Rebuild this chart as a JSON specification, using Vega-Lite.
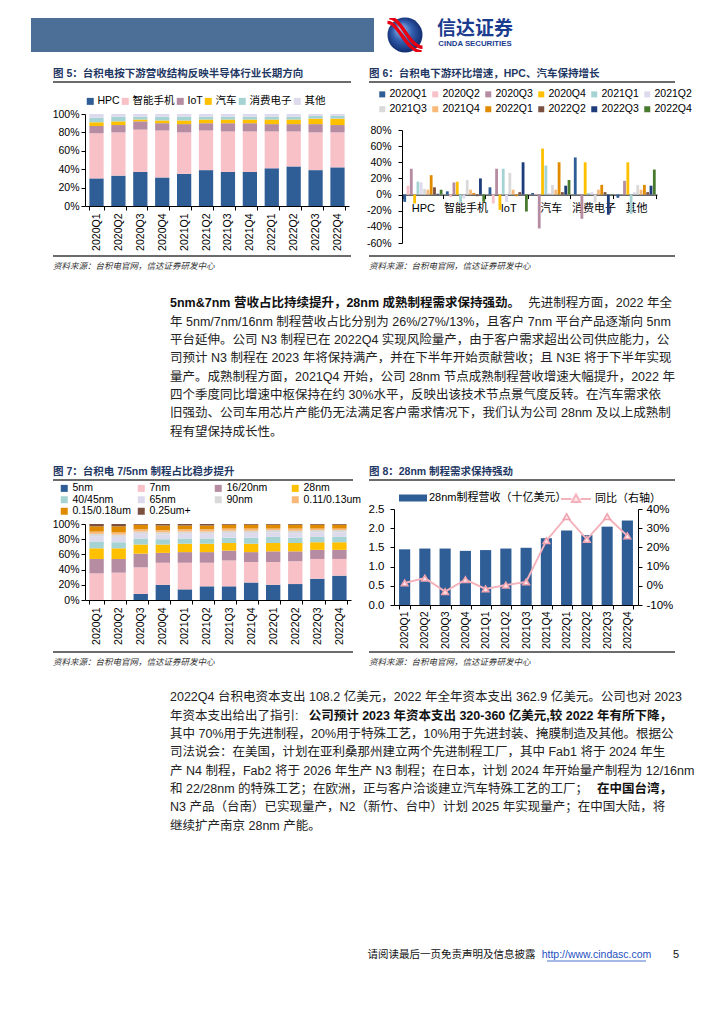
{
 "$schema": "https://vega.github.io/schema/vega-lite/v6.json",
 "background": "white",
 "padding": {"left": 31, "top": 17, "right": 0, "bottom": 0},
 "config": {
  "font": "Liberation Sans, Noto Sans CJK SC",
  "view": {"stroke": null},
  "axis": {"grid": false, "domainColor": "#000", "tickColor": "#000", "labelColor": "#000", "labelFontSize": 10.5, "labelFont": "Liberation Sans, Noto Sans CJK SC", "tickSize": 4, "labelOverlap": false},
  "legend": {"labelFontSize": 10.5, "labelColor": "#000", "labelFont": "Liberation Sans, Noto Sans CJK SC"},
  "title": {"font": "Liberation Sans, Noto Sans CJK SC"}
 },
 "datasets": {
  "fig5": [
   {"季度":"2020Q1","下游":"HPC","占比":30},{"季度":"2020Q1","下游":"智能手机","占比":49},{"季度":"2020Q1","下游":"IoT","占比":8},{"季度":"2020Q1","下游":"汽车","占比":4},{"季度":"2020Q1","下游":"消费电子","占比":5},{"季度":"2020Q1","下游":"其他","占比":4},
   {"季度":"2020Q2","下游":"HPC","占比":33},{"季度":"2020Q2","下游":"智能手机","占比":47},{"季度":"2020Q2","下游":"IoT","占比":8},{"季度":"2020Q2","下游":"汽车","占比":4},{"季度":"2020Q2","下游":"消费电子","占比":5},{"季度":"2020Q2","下游":"其他","占比":3},
   {"季度":"2020Q3","下游":"HPC","占比":37},{"季度":"2020Q3","下游":"智能手机","占比":46},{"季度":"2020Q3","下游":"IoT","占比":9},{"季度":"2020Q3","下游":"汽车","占比":2},{"季度":"2020Q3","下游":"消费电子","占比":3},{"季度":"2020Q3","下游":"其他","占比":3},
   {"季度":"2020Q4","下游":"HPC","占比":31},{"季度":"2020Q4","下游":"智能手机","占比":51},{"季度":"2020Q4","下游":"IoT","占比":8},{"季度":"2020Q4","下游":"汽车","占比":3},{"季度":"2020Q4","下游":"消费电子","占比":4},{"季度":"2020Q4","下游":"其他","占比":3},
   {"季度":"2021Q1","下游":"HPC","占比":35},{"季度":"2021Q1","下游":"智能手机","占比":45},{"季度":"2021Q1","下游":"IoT","占比":9},{"季度":"2021Q1","下游":"汽车","占比":4},{"季度":"2021Q1","下游":"消费电子","占比":4},{"季度":"2021Q1","下游":"其他","占比":3},
   {"季度":"2021Q2","下游":"HPC","占比":39},{"季度":"2021Q2","下游":"智能手机","占比":43},{"季度":"2021Q2","下游":"IoT","占比":8},{"季度":"2021Q2","下游":"汽车","占比":4},{"季度":"2021Q2","下游":"消费电子","占比":3},{"季度":"2021Q2","下游":"其他","占比":3},
   {"季度":"2021Q3","下游":"HPC","占比":37},{"季度":"2021Q3","下游":"智能手机","占比":44},{"季度":"2021Q3","下游":"IoT","占比":9},{"季度":"2021Q3","下游":"汽车","占比":4},{"季度":"2021Q3","下游":"消费电子","占比":3},{"季度":"2021Q3","下游":"其他","占比":3},
   {"季度":"2021Q4","下游":"HPC","占比":37},{"季度":"2021Q4","下游":"智能手机","占比":44},{"季度":"2021Q4","下游":"IoT","占比":9},{"季度":"2021Q4","下游":"汽车","占比":4},{"季度":"2021Q4","下游":"消费电子","占比":3},{"季度":"2021Q4","下游":"其他","占比":3},
   {"季度":"2022Q1","下游":"HPC","占比":41},{"季度":"2022Q1","下游":"智能手机","占比":40},{"季度":"2022Q1","下游":"IoT","占比":8},{"季度":"2022Q1","下游":"汽车","占比":5},{"季度":"2022Q1","下游":"消费电子","占比":3},{"季度":"2022Q1","下游":"其他","占比":3},
   {"季度":"2022Q2","下游":"HPC","占比":43},{"季度":"2022Q2","下游":"智能手机","占比":38},{"季度":"2022Q2","下游":"IoT","占比":8},{"季度":"2022Q2","下游":"汽车","占比":5},{"季度":"2022Q2","下游":"消费电子","占比":3},{"季度":"2022Q2","下游":"其他","占比":3},
   {"季度":"2022Q3","下游":"HPC","占比":39},{"季度":"2022Q3","下游":"智能手机","占比":41},{"季度":"2022Q3","下游":"IoT","占比":9},{"季度":"2022Q3","下游":"汽车","占比":6},{"季度":"2022Q3","下游":"消费电子","占比":3},{"季度":"2022Q3","下游":"其他","占比":2},
   {"季度":"2022Q4","下游":"HPC","占比":42},{"季度":"2022Q4","下游":"智能手机","占比":38},{"季度":"2022Q4","下游":"IoT","占比":8},{"季度":"2022Q4","下游":"汽车","占比":7},{"季度":"2022Q4","下游":"消费电子","占比":3},{"季度":"2022Q4","下游":"其他","占比":2}
  ],
  "fig6": [
   {"平台":"HPC","季度":"2020Q1","环比":-9},{"平台":"HPC","季度":"2020Q2","环比":11},{"平台":"HPC","季度":"2020Q3","环比":32},{"平台":"HPC","季度":"2020Q4","环比":-11},{"平台":"HPC","季度":"2021Q1","环比":16},{"平台":"HPC","季度":"2021Q2","环比":15},{"平台":"HPC","季度":"2021Q3","环比":7},{"平台":"HPC","季度":"2021Q4","环比":6},{"平台":"HPC","季度":"2022Q1","环比":24},{"平台":"HPC","季度":"2022Q2","环比":9},{"平台":"HPC","季度":"2022Q3","环比":1},{"平台":"HPC","季度":"2022Q4","环比":6},
   {"平台":"智能手机","季度":"2020Q1","环比":4},{"平台":"智能手机","季度":"2020Q2","环比":-3},{"平台":"智能手机","季度":"2020Q3","环比":15},{"平台":"智能手机","季度":"2020Q4","环比":16},{"平台":"智能手机","季度":"2021Q1","环比":-10},{"平台":"智能手机","季度":"2021Q2","环比":-5},{"平台":"智能手机","季度":"2021Q3","环比":18},{"平台":"智能手机","季度":"2021Q4","环比":6},{"平台":"智能手机","季度":"2022Q1","环比":2},{"平台":"智能手机","季度":"2022Q2","环比":-2},{"平台":"智能手机","季度":"2022Q3","环比":20},{"平台":"智能手机","季度":"2022Q4","环比":-9},
   {"平台":"IoT","季度":"2020Q1","环比":9},{"平台":"IoT","季度":"2020Q2","环比":-11},{"平台":"IoT","季度":"2020Q3","环比":32},{"平台":"IoT","季度":"2020Q4","环比":-19},{"平台":"IoT","季度":"2021Q1","环比":32},{"平台":"IoT","季度":"2021Q2","环比":-9},{"平台":"IoT","季度":"2021Q3","环比":27},{"平台":"IoT","季度":"2021Q4","环比":6},{"平台":"IoT","季度":"2022Q1","环比":-2},{"平台":"IoT","季度":"2022Q2","环比":3},{"平台":"IoT","季度":"2022Q3","环比":40},{"平台":"IoT","季度":"2022Q4","环比":-21},
   {"平台":"汽车","季度":"2020Q1","环比":2},{"平台":"汽车","季度":"2020Q2","环比":1},{"平台":"汽车","季度":"2020Q3","环比":-42},{"平台":"汽车","季度":"2020Q4","环比":57},{"平台":"汽车","季度":"2021Q1","环比":36},{"平台":"汽车","季度":"2021Q2","环比":2},{"平台":"汽车","季度":"2021Q3","环比":12},{"平台":"汽车","季度":"2021Q4","环比":6},{"平台":"汽车","季度":"2022Q1","环比":40},{"平台":"汽车","季度":"2022Q2","环比":3},{"平台":"汽车","季度":"2022Q3","环比":11},{"平台":"汽车","季度":"2022Q4","环比":18},
   {"平台":"消费电子","季度":"2020Q1","环比":46},{"平台":"消费电子","季度":"2020Q2","环比":0},{"平台":"消费电子","季度":"2020Q3","环比":-30},{"平台":"消费电子","季度":"2020Q4","环比":40},{"平台":"消费电子","季度":"2021Q1","环比":2},{"平台":"消费电子","季度":"2021Q2","环比":3},{"平台":"消费电子","季度":"2021Q3","环比":-10},{"平台":"消费电子","季度":"2021Q4","环比":6},{"平台":"消费电子","季度":"2022Q1","环比":12},{"平台":"消费电子","季度":"2022Q2","环比":3},{"平台":"消费电子","季度":"2022Q3","环比":-25},{"平台":"消费电子","季度":"2022Q4","环比":-1},
   {"平台":"其他","季度":"2020Q1","环比":-4},{"平台":"其他","季度":"2020Q2","环比":0},{"平台":"其他","季度":"2020Q3","环比":17},{"平台":"其他","季度":"2020Q4","环比":40},{"平台":"其他","季度":"2021Q1","环比":-24},{"平台":"其他","季度":"2021Q2","环比":3},{"平台":"其他","季度":"2021Q3","环比":12},{"平台":"其他","季度":"2021Q4","环比":6},{"平台":"其他","季度":"2022Q1","环比":12},{"平台":"其他","季度":"2022Q2","环比":3},{"平台":"其他","季度":"2022Q3","环比":11},{"平台":"其他","季度":"2022Q4","环比":31}
  ],
  "fig7": [
   {"季度":"2020Q1","制程":"5nm","占比":0},{"季度":"2020Q1","制程":"7nm","占比":35},{"季度":"2020Q1","制程":"16/20nm","占比":19},{"季度":"2020Q1","制程":"28nm","占比":14},{"季度":"2020Q1","制程":"40/45nm","占比":9},{"季度":"2020Q1","制程":"65nm","占比":7},{"季度":"2020Q1","制程":"90nm","占比":3},{"季度":"2020Q1","制程":"0.11/0.13um","占比":3},{"季度":"2020Q1","制程":"0.15/0.18um","占比":7},{"季度":"2020Q1","制程":"0.25um+","占比":3},
   {"季度":"2020Q2","制程":"5nm","占比":0},{"季度":"2020Q2","制程":"7nm","占比":36},{"季度":"2020Q2","制程":"16/20nm","占比":18},{"季度":"2020Q2","制程":"28nm","占比":14},{"季度":"2020Q2","制程":"40/45nm","占比":8},{"季度":"2020Q2","制程":"65nm","占比":7},{"季度":"2020Q2","制程":"90nm","占比":3},{"季度":"2020Q2","制程":"0.11/0.13um","占比":3},{"季度":"2020Q2","制程":"0.15/0.18um","占比":8},{"季度":"2020Q2","制程":"0.25um+","占比":3},
   {"季度":"2020Q3","制程":"5nm","占比":8},{"季度":"2020Q3","制程":"7nm","占比":35},{"季度":"2020Q3","制程":"16/20nm","占比":18},{"季度":"2020Q3","制程":"28nm","占比":12},{"季度":"2020Q3","制程":"40/45nm","占比":8},{"季度":"2020Q3","制程":"65nm","占比":6},{"季度":"2020Q3","制程":"90nm","占比":3},{"季度":"2020Q3","制程":"0.11/0.13um","占比":3},{"季度":"2020Q3","制程":"0.15/0.18um","占比":6},{"季度":"2020Q3","制程":"0.25um+","占比":1},
   {"季度":"2020Q4","制程":"5nm","占比":20},{"季度":"2020Q4","制程":"7nm","占比":29},{"季度":"2020Q4","制程":"16/20nm","占比":13},{"季度":"2020Q4","制程":"28nm","占比":11},{"季度":"2020Q4","制程":"40/45nm","占比":7},{"季度":"2020Q4","制程":"65nm","占比":6},{"季度":"2020Q4","制程":"90nm","占比":3},{"季度":"2020Q4","制程":"0.11/0.13um","占比":3},{"季度":"2020Q4","制程":"0.15/0.18um","占比":6},{"季度":"2020Q4","制程":"0.25um+","占比":2},
   {"季度":"2021Q1","制程":"5nm","占比":14},{"季度":"2021Q1","制程":"7nm","占比":35},{"季度":"2021Q1","制程":"16/20nm","占比":14},{"季度":"2021Q1","制程":"28nm","占比":11},{"季度":"2021Q1","制程":"40/45nm","占比":7},{"季度":"2021Q1","制程":"65nm","占比":6},{"季度":"2021Q1","制程":"90nm","占比":3},{"季度":"2021Q1","制程":"0.11/0.13um","占比":3},{"季度":"2021Q1","制程":"0.15/0.18um","占比":5},{"季度":"2021Q1","制程":"0.25um+","占比":2},
   {"季度":"2021Q2","制程":"5nm","占比":18},{"季度":"2021Q2","制程":"7nm","占比":31},{"季度":"2021Q2","制程":"16/20nm","占比":14},{"季度":"2021Q2","制程":"28nm","占比":11},{"季度":"2021Q2","制程":"40/45nm","占比":7},{"季度":"2021Q2","制程":"65nm","占比":6},{"季度":"2021Q2","制程":"90nm","占比":3},{"季度":"2021Q2","制程":"0.11/0.13um","占比":3},{"季度":"2021Q2","制程":"0.15/0.18um","占比":5},{"季度":"2021Q2","制程":"0.25um+","占比":2},
   {"季度":"2021Q3","制程":"5nm","占比":18},{"季度":"2021Q3","制程":"7nm","占比":34},{"季度":"2021Q3","制程":"16/20nm","占比":13},{"季度":"2021Q3","制程":"28nm","占比":10},{"季度":"2021Q3","制程":"40/45nm","占比":7},{"季度":"2021Q3","制程":"65nm","占比":6},{"季度":"2021Q3","制程":"90nm","占比":3},{"季度":"2021Q3","制程":"0.11/0.13um","占比":3},{"季度":"2021Q3","制程":"0.15/0.18um","占比":5},{"季度":"2021Q3","制程":"0.25um+","占比":1},
   {"季度":"2021Q4","制程":"5nm","占比":23},{"季度":"2021Q4","制程":"7nm","占比":27},{"季度":"2021Q4","制程":"16/20nm","占比":13},{"季度":"2021Q4","制程":"28nm","占比":11},{"季度":"2021Q4","制程":"40/45nm","占比":8},{"季度":"2021Q4","制程":"65nm","占比":6},{"季度":"2021Q4","制程":"90nm","占比":3},{"季度":"2021Q4","制程":"0.11/0.13um","占比":3},{"季度":"2021Q4","制程":"0.15/0.18um","占比":5},{"季度":"2021Q4","制程":"0.25um+","占比":1},
   {"季度":"2022Q1","制程":"5nm","占比":20},{"季度":"2022Q1","制程":"7nm","占比":30},{"季度":"2022Q1","制程":"16/20nm","占比":14},{"季度":"2022Q1","制程":"28nm","占比":11},{"季度":"2022Q1","制程":"40/45nm","占比":8},{"季度":"2022Q1","制程":"65nm","占比":6},{"季度":"2022Q1","制程":"90nm","占比":3},{"季度":"2022Q1","制程":"0.11/0.13um","占比":2},{"季度":"2022Q1","制程":"0.15/0.18um","占比":5},{"季度":"2022Q1","制程":"0.25um+","占比":1},
   {"季度":"2022Q2","制程":"5nm","占比":21},{"季度":"2022Q2","制程":"7nm","占比":30},{"季度":"2022Q2","制程":"16/20nm","占比":13},{"季度":"2022Q2","制程":"28nm","占比":11},{"季度":"2022Q2","制程":"40/45nm","占比":7},{"季度":"2022Q2","制程":"65nm","占比":6},{"季度":"2022Q2","制程":"90nm","占比":3},{"季度":"2022Q2","制程":"0.11/0.13um","占比":3},{"季度":"2022Q2","制程":"0.15/0.18um","占比":5},{"季度":"2022Q2","制程":"0.25um+","占比":1},
   {"季度":"2022Q3","制程":"5nm","占比":28},{"季度":"2022Q3","制程":"7nm","占比":26},{"季度":"2022Q3","制程":"16/20nm","占比":12},{"季度":"2022Q3","制程":"28nm","占比":10},{"季度":"2022Q3","制程":"40/45nm","占比":7},{"季度":"2022Q3","制程":"65nm","占比":6},{"季度":"2022Q3","制程":"90nm","占比":3},{"季度":"2022Q3","制程":"0.11/0.13um","占比":2},{"季度":"2022Q3","制程":"0.15/0.18um","占比":5},{"季度":"2022Q3","制程":"0.25um+","占比":1},
   {"季度":"2022Q4","制程":"5nm","占比":32},{"季度":"2022Q4","制程":"7nm","占比":22},{"季度":"2022Q4","制程":"16/20nm","占比":12},{"季度":"2022Q4","制程":"28nm","占比":10},{"季度":"2022Q4","制程":"40/45nm","占比":7},{"季度":"2022Q4","制程":"65nm","占比":6},{"季度":"2022Q4","制程":"90nm","占比":3},{"季度":"2022Q4","制程":"0.11/0.13um","占比":2},{"季度":"2022Q4","制程":"0.15/0.18um","占比":5},{"季度":"2022Q4","制程":"0.25um+","占比":1}
  ],
  "fig8": [
   {"季度":"2020Q1","营收":1.45,"同比":1.5},{"季度":"2020Q2","营收":1.47,"同比":4},{"季度":"2020Q3","营收":1.47,"同比":-3},{"季度":"2020Q4","营收":1.41,"同比":3.2},
   {"季度":"2021Q1","营收":1.43,"同比":-1.6},{"季度":"2021Q2","营收":1.47,"同比":0.4},{"季度":"2021Q3","营收":1.49,"同比":2},{"季度":"2021Q4","营收":1.74,"同比":23.5},
   {"季度":"2022Q1","营收":1.94,"同比":36},{"季度":"2022Q2","营收":1.82,"同比":24.2},{"季度":"2022Q3","营收":2.04,"同比":36},{"季度":"2022Q4","营收":2.2,"同比":26}
  ],
  "brand_cn": [{"行":1,"文本":"信达证券"}],
  "brand_en": [{"行":2,"文本":"CINDA SECURITIES"}],
  "p1_emph_head": [{"行":1,"文本":"5nm&7nm 营收占比持续提升，28nm 成熟制程需求保持强劲。"}],
  "p1_tail": [{"行":1,"文本":"先进制程方面，2022 年全"}],
  "p1_head": [
   {"行":2,"文本":"年 5nm/7nm/16nm 制程营收占比分别为 26%/27%/13%，且客户 7nm 平台产品逐渐向 5nm"},
   {"行":3,"文本":"平台延伸。公司 N3 制程已在 2022Q4 实现风险量产，由于客户需求超出公司供应能力，公"},
   {"行":4,"文本":"司预计 N3 制程在 2023 年将保持满产，并在下半年开始贡献营收；且 N3E 将于下半年实现"},
   {"行":5,"文本":"量产。成熟制程方面，2021Q4 开始，公司 28nm 节点成熟制程营收增速大幅提升，2022 年"},
   {"行":6,"文本":"四个季度同比增速中枢保持在约 30%水平，反映出该技术节点景气度反转。在汽车需求依"},
   {"行":7,"文本":"旧强劲、公司车用芯片产能仍无法满足客户需求情况下，我们认为公司 28nm 及以上成熟制"},
   {"行":8,"文本":"程有望保持成长性。"}
  ],
  "p2_head": [
   {"行":1,"文本":"2022Q4 台积电资本支出 108.2 亿美元，2022 年全年资本支出 362.9 亿美元。公司也对 2023"},
   {"行":2,"文本":"年资本支出给出了指引:"},
   {"行":3,"文本":"其中 70%用于先进制程，20%用于特殊工艺，10%用于先进封装、掩膜制造及其他。根据公"},
   {"行":4,"文本":"司法说会：在美国，计划在亚利桑那州建立两个先进制程工厂，其中 Fab1 将于 2024 年生"},
   {"行":5,"文本":"产 N4 制程，Fab2 将于 2026 年生产 N3 制程；在日本，计划 2024 年开始量产制程为 12/16nm"},
   {"行":6,"文本":"和 22/28nm 的特殊工艺；在欧洲，正与客户洽谈建立汽车特殊工艺的工厂；"},
   {"行":7,"文本":"N3 产品（台南）已实现量产，N2（新竹、台中）计划 2025 年实现量产；在中国大陆，将"},
   {"行":8,"文本":"继续扩产南京 28nm 产能。"}
  ],
  "p2_emph_tail": [
   {"行":2,"文本":"公司预计 2023 年资本支出 320-360 亿美元,较 2022 年有所下降，"},
   {"行":6,"文本":"在中国台湾，"}
  ]
 },
 "spacing": 0,
 "resolve": {"scale": {"color": "independent", "fill": "independent", "stroke": "independent"}, "legend": {"color": "independent", "fill": "independent", "stroke": "independent"}},
 "vconcat": [
  {
   "hconcat": [
    {"width": 343, "height": 34, "view": {"fill": "#4B6F97", "stroke": null}, "data": {"values": []}, "mark": "point"},
    {"width": 36, "height": 34, "data": {"values": [{"名称": "信达证券"}]},
     "layer": [
      {"mark": {"type": "point", "shape": "circle", "size": 1225, "filled": true, "opacity": 1, "color": {"gradient": "radial", "x1": 0.35, "y1": 0.3, "r1": 0, "x2": 0.5, "y2": 0.5, "r2": 0.55, "stops": [{"offset": 0, "color": "#A9CBF0"}, {"offset": 0.5, "color": "#3460B0"}, {"offset": 1, "color": "#0B2466"}]}}, "encoding": {}},
      {"mark": {"type": "point", "shape": "M -1 -0.72 C -0.35 -0.72 0.05 0.95 0.95 0.95", "size": 1225, "filled": false, "opacity": 1, "stroke": "#E60012", "strokeWidth": 3.4, "clip": true}, "encoding": {}},
      {"mark": {"type": "point", "shape": "M -0.9 -0.98 C -0.2 -0.98 0.25 0.7 1 0.7", "size": 1225, "filled": false, "opacity": 1, "stroke": "#E60012", "strokeWidth": 3.4, "clip": true}, "encoding": {}}
     ]
    },
    {"width": 70, "height": 34,
     "layer": [
      {"data": {"name": "brand_cn"}, "mark": {"type": "text", "fontSize": 19, "fontWeight": "bold", "color": "#1B3C8E", "baseline": "middle", "font": "Noto Sans CJK SC"},
       "encoding": {"y": {"field": "行", "type": "quantitative", "axis": null, "scale": {"domain": [0.2, 2.467], "reverse": true}}, "text": {"field": "文本"}}},
      {"data": {"name": "brand_en"}, "mark": {"type": "text", "fontSize": 7.8, "fontWeight": "bold", "color": "#1B3C8E", "baseline": "middle"},
       "encoding": {"y": {"field": "行", "type": "quantitative"}, "text": {"field": "文本"}}}
     ]
    }
   ],
   "spacing": 13
  },
  {"width": 1, "height": 15, "data": {"values": []}, "mark": "point"},
  {
   "hconcat": [
    {"width": 1, "height": 1, "data": {"values": []}, "mark": "point"},
    {
     "hconcat": [
      {"width": 298, "height": 1, "data": {"values": [{"k": 1}]}, "mark": {"type": "rule", "color": "#3A3A3A", "strokeWidth": 1.5},
       "encoding": {"y": {"datum": 0, "type": "quantitative", "axis": null, "scale": {"domain": [0, 1]}}},
       "title": {"text": "图 5：台积电按下游营收结构反映半导体行业长期方向", "anchor": "start", "frame": "group", "fontSize": 10.5, "fontWeight": "bold", "color": "#1F3864", "offset": 2}},
      {"width": 306, "height": 1, "data": {"values": [{"k": 1}]}, "mark": {"type": "rule", "color": "#3A3A3A", "strokeWidth": 1.5},
       "encoding": {"y": {"datum": 0, "type": "quantitative", "axis": null, "scale": {"domain": [0, 1]}}},
       "title": {"text": "图 6：台积电下游环比增速，HPC、汽车保持增长", "anchor": "start", "frame": "group", "fontSize": 10.5, "fontWeight": "bold", "color": "#1F3864", "offset": 2}}
     ],
     "spacing": 16
    }
   ],
   "spacing": 20
  },
  {"width": 1, "height": 5, "data": {"values": []}, "mark": "point"},
  {
   "resolve": {"scale": {"color": "independent"}, "legend": {"color": "independent"}},
   "hconcat": [
    {"width": 1, "height": 1, "data": {"values": []}, "mark": "point"},
    {
     "resolve": {"scale": {"color": "independent"}, "legend": {"color": "independent"}},
     "hconcat": [
      {
       "spacing": 0,
       "resolve": {"scale": {"color": "independent"}, "legend": {"color": "independent"}},
       "vconcat": [
        {"width": 1, "height": 8, "data": {"values": []}, "mark": "point"},
        {"width": 264, "height": 92, "data": {"name": "fig5"},
         "transform": [{"calculate": "indexof(['HPC','智能手机','IoT','汽车','消费电子','其他'], datum['下游'])", "as": "堆叠序"}],
         "mark": {"type": "bar"},
         "encoding": {
          "x": {"field": "季度", "type": "nominal", "sort": null, "scale": {"paddingInner": 0.35, "paddingOuter": 0.2}, "axis": {"title": null, "labelAngle": -90, "tickBand": "extent", "labelPadding": 3}},
          "y": {"field": "占比", "type": "quantitative", "stack": "normalize", "axis": {"title": null, "format": ".0%", "values": [0, 0.2, 0.4, 0.6, 0.8, 1]}},
          "order": {"field": "堆叠序", "type": "quantitative", "sort": "ascending"},
          "color": {"field": "下游", "type": "nominal", "scale": {"domain": ["HPC", "智能手机", "IoT", "汽车", "消费电子", "其他"], "range": ["#2F5D95", "#F8C1C8", "#B68CA2", "#FFC000", "#A5D2D2", "#DCDAEC"]},
           "legend": {"orient": "none", "legendX": 0, "legendY": -18, "direction": "horizontal", "columns": 6, "title": null, "symbolType": "square", "symbolSize": 49, "symbolStrokeWidth": 0, "labelOffset": 2, "columnPadding": 0}}
         }}
       ]
      },
      {
       "spacing": 0,
       "resolve": {"scale": {"color": "independent"}, "legend": {"color": "independent"}},
       "vconcat": [
        {"width": 1, "height": 1, "data": {"values": []}, "mark": "point"},
        {"width": 255, "height": 113, "data": {"name": "fig6"}, "mark": {"type": "bar"},
         "encoding": {
          "x": {"field": "平台", "type": "nominal", "sort": null, "scale": {"paddingInner": 0.08, "paddingOuter": 0.03}, "axis": {"title": null, "labelAngle": 0, "offset": -48.4, "tickBand": "extent", "labelPadding": 4, "labelFontSize": 11}},
          "xOffset": {"field": "季度", "type": "nominal", "sort": null, "scale": {"paddingInner": 0.15}},
          "y": {"field": "环比", "type": "quantitative", "scale": {"domain": [-60, 80]}, "axis": {"title": null, "values": [-60, -40, -20, 0, 20, 40, 60, 80], "labelExpr": "datum.value + '%'", "labelPadding": 7}},
          "color": {"field": "季度", "type": "nominal", "sort": null, "scale": {"domain": ["2020Q1", "2020Q2", "2020Q3", "2020Q4", "2021Q1", "2021Q2", "2021Q3", "2021Q4", "2022Q1", "2022Q2", "2022Q3", "2022Q4"], "range": ["#2F5D95", "#F8C1C8", "#B68CA2", "#FFC000", "#A5D2D2", "#DCDAEC", "#D9D9D9", "#F8B878", "#E08A00", "#7A5040", "#1F3C7A", "#4A7A2E"]},
           "legend": {"orient": "none", "legendX": -25, "legendY": -41, "direction": "horizontal", "columns": 6, "gridAlign": "all", "title": null, "symbolType": "square", "symbolSize": 36, "symbolStrokeWidth": 0, "labelOffset": 2, "columnPadding": 3, "rowPadding": 4}}
         }}
       ]
      }
     ],
     "spacing": 17
    }
   ],
   "spacing": 20
  },
  {"width": 1, "height": 4, "data": {"values": []}, "mark": "point"},
  {
   "hconcat": [
    {"width": 1, "height": 1, "data": {"values": []}, "mark": "point"},
    {
     "hconcat": [
      {"width": 298, "height": 1, "data": {"values": [{"k": 1}]}, "mark": {"type": "rule", "color": "#3A3A3A", "strokeWidth": 1.5},
       "encoding": {"y": {"datum": 1, "type": "quantitative", "axis": null, "scale": {"domain": [0, 1]}}},
       "title": {"text": "资料来源：台积电官网，信达证券研发中心", "orient": "bottom", "anchor": "start", "frame": "group", "fontSize": 8.5, "fontStyle": "italic", "fontWeight": "normal", "color": "#333333", "offset": 5}},
      {"width": 306, "height": 1, "data": {"values": [{"k": 1}]}, "mark": {"type": "rule", "color": "#3A3A3A", "strokeWidth": 1.5},
       "encoding": {"y": {"datum": 1, "type": "quantitative", "axis": null, "scale": {"domain": [0, 1]}}},
       "title": {"text": "资料来源：台积电官网，信达证券研发中心", "orient": "bottom", "anchor": "start", "frame": "group", "fontSize": 8.5, "fontStyle": "italic", "fontWeight": "normal", "color": "#333333", "offset": 5}}
     ],
     "spacing": 16
    }
   ],
   "spacing": 20
  },
  {"width": 1, "height": 23, "data": {"values": []}, "mark": "point"},
  {
   "hconcat": [
    {"width": 119, "height": 1, "data": {"values": []}, "mark": "point"},
    {"width": 502, "height": 147,
     "layer": [
      {"data": {"name": "p1_emph_head"}, "mark": {"type": "text", "align": "left", "baseline": "middle", "fontSize": 12.5, "fontWeight": "bold", "color": "#111111"},
       "encoding": {"x": {"datum": 0, "type": "quantitative", "axis": null, "scale": {"domain": [0, 1]}}, "y": {"field": "行", "type": "ordinal", "axis": null, "scale": {"type": "point", "domain": [1, 2, 3, 4, 5, 6, 7, 8], "padding": 0.5}}, "text": {"field": "文本"}}},
      {"data": {"name": "p1_tail"}, "mark": {"type": "text", "align": "right", "baseline": "middle", "fontSize": 12.5, "color": "#222222"},
       "encoding": {"x": {"datum": 1, "type": "quantitative"}, "y": {"field": "行", "type": "ordinal"}, "text": {"field": "文本"}}},
      {"data": {"name": "p1_head"}, "mark": {"type": "text", "align": "left", "baseline": "middle", "fontSize": 12.5, "color": "#222222"},
       "encoding": {"x": {"datum": 0, "type": "quantitative"}, "y": {"field": "行", "type": "ordinal"}, "text": {"field": "文本"}}}
     ]
    }
   ],
   "spacing": 20
  },
  {"width": 1, "height": 25, "data": {"values": []}, "mark": "point"},
  {
   "hconcat": [
    {"width": 1, "height": 1, "data": {"values": []}, "mark": "point"},
    {
     "hconcat": [
      {"width": 300, "height": 1, "data": {"values": [{"k": 1}]}, "mark": {"type": "rule", "color": "#3A3A3A", "strokeWidth": 1.5},
       "encoding": {"y": {"datum": 0, "type": "quantitative", "axis": null, "scale": {"domain": [0, 1]}}},
       "title": {"text": "图 7：台积电 7/5nm 制程占比稳步提升", "anchor": "start", "frame": "group", "fontSize": 10.5, "fontWeight": "bold", "color": "#1F3864", "offset": 2}},
      {"width": 306, "height": 1, "data": {"values": [{"k": 1}]}, "mark": {"type": "rule", "color": "#3A3A3A", "strokeWidth": 1.5},
       "encoding": {"y": {"datum": 0, "type": "quantitative", "axis": null, "scale": {"domain": [0, 1]}}},
       "title": {"text": "图 8：28nm 制程需求保持强劲", "anchor": "start", "frame": "group", "fontSize": 10.5, "fontWeight": "bold", "color": "#1F3864", "offset": 2}}
     ],
     "spacing": 14
    }
   ],
   "spacing": 20
  },
  {"width": 1, "height": 1, "data": {"values": []}, "mark": "point"},
  {
   "resolve": {"scale": {"color": "independent", "fill": "independent", "stroke": "independent"}, "legend": {"color": "independent", "fill": "independent", "stroke": "independent"}},
   "hconcat": [
    {"width": 1, "height": 1, "data": {"values": []}, "mark": "point"},
    {
     "resolve": {"scale": {"color": "independent", "fill": "independent", "stroke": "independent"}, "legend": {"color": "independent", "fill": "independent", "stroke": "independent"}},
     "hconcat": [
      {
       "spacing": 0,
       "resolve": {"scale": {"color": "independent"}, "legend": {"color": "independent"}},
       "vconcat": [
        {"width": 1, "height": 1, "data": {"values": []}, "mark": "point"},
        {"width": 266, "height": 76, "data": {"name": "fig7"},
         "transform": [{"calculate": "indexof(['5nm','7nm','16/20nm','28nm','40/45nm','65nm','90nm','0.11/0.13um','0.15/0.18um','0.25um+'], datum['制程'])", "as": "堆叠序"}],
         "mark": {"type": "bar"},
         "encoding": {
          "x": {"field": "季度", "type": "nominal", "sort": null, "scale": {"paddingInner": 0.35, "paddingOuter": 0.2}, "axis": {"title": null, "labelAngle": -90, "tickBand": "extent", "labelPadding": 3}},
          "y": {"field": "占比", "type": "quantitative", "stack": "normalize", "axis": {"title": null, "format": ".0%", "values": [0, 0.2, 0.4, 0.6, 0.8, 1]}},
          "order": {"field": "堆叠序", "type": "quantitative", "sort": "ascending"},
          "color": {"field": "制程", "type": "nominal", "scale": {"domain": ["5nm", "7nm", "16/20nm", "28nm", "40/45nm", "65nm", "90nm", "0.11/0.13um", "0.15/0.18um", "0.25um+"], "range": ["#2F5D95", "#F8C1C8", "#B68CA2", "#FFC000", "#A5D2D2", "#DCDAEC", "#D9D9D9", "#F8B878", "#E08A00", "#7A5040"]},
           "legend": {"orient": "none", "legendX": -26, "legendY": -41, "direction": "horizontal", "columns": 4, "gridAlign": "all", "title": null, "symbolType": "square", "symbolSize": 49, "symbolStrokeWidth": 0, "labelOffset": 3, "columnPadding": 5, "rowPadding": 0.5}}
         }}
       ]
      },
      {
       "spacing": 0,
       "resolve": {"scale": {"fill": "independent", "stroke": "independent"}, "legend": {"fill": "independent", "stroke": "independent"}},
       "vconcat": [
        {"width": 1, "height": 1, "data": {"values": []}, "mark": "point"},
        {"width": 244, "height": 96, "data": {"name": "fig8"},
         "layer": [
          {"mark": {"type": "bar"},
           "encoding": {
            "x": {"field": "季度", "type": "nominal", "sort": null, "scale": {"paddingInner": 0.45, "paddingOuter": 0.25}, "axis": {"title": null, "labelAngle": -90, "tickBand": "extent", "labelPadding": 2, "labelFontSize": 10.5}},
            "y": {"field": "营收", "type": "quantitative", "scale": {"domain": [0, 2.5]}, "axis": {"title": null, "values": [0, 0.5, 1, 1.5, 2, 2.5], "format": ".1f", "labelFontSize": 11.5, "labelPadding": 6}},
            "fill": {"datum": "28nm制程营收（十亿美元）", "type": "nominal", "scale": {"range": ["#2F5D95"]},
             "legend": {"orient": "none", "legendX": 5, "legendY": -25, "title": null, "symbolType": "M -1 -0.25 L 1 -0.25 L 1 0.25 L -1 0.25 Z", "symbolSize": 784, "symbolStrokeWidth": 0, "labelOffset": 2, "labelFontSize": 11}}
           }},
          {
           "layer": [
            {"mark": {"type": "line", "strokeWidth": 2},
             "encoding": {
              "x": {"field": "季度", "type": "nominal", "sort": null},
              "y": {"field": "同比", "type": "quantitative", "scale": {"domain": [-10, 40]}, "axis": {"title": null, "orient": "right", "values": [-10, 0, 10, 20, 30, 40], "labelExpr": "datum.value + '%'", "labelFontSize": 11.5, "labelPadding": 4, "labelOverlap": false}},
              "stroke": {"datum": "同比（右轴）", "type": "nominal", "scale": {"range": ["#F4B3BC"]},
               "legend": {"orient": "none", "legendX": 166, "legendY": -26, "title": null, "symbolType": "M -1 0 L -0.3 0 M 0.3 0 L 1 0 M 0 -0.3 L 0.28 0.2 L -0.28 0.2 Z", "symbolSize": 900, "symbolStrokeWidth": 2, "symbolFillColor": "#FCE3E7", "labelOffset": 3, "labelFontSize": 11}}
             }},
            {"mark": {"type": "point", "shape": "triangle-up", "filled": true, "size": 45, "opacity": 1, "fill": "#FCE3E7", "stroke": "#F0A2AE", "strokeWidth": 1.5},
             "encoding": {
              "x": {"field": "季度", "type": "nominal", "sort": null},
              "y": {"field": "同比", "type": "quantitative", "axis": {"title": null, "orient": "right", "values": [-10, 0, 10, 20, 30, 40], "labelExpr": "datum.value + '%'", "labelFontSize": 11.5, "labelPadding": 4, "labelOverlap": false}}
             }}
           ]
          }
         ],
         "resolve": {"scale": {"y": "independent"}}
        }
       ]
      }
     ],
     "spacing": 6
    }
   ],
   "spacing": 20
  },
  {"width": 1, "height": 2, "data": {"values": []}, "mark": "point"},
  {
   "hconcat": [
    {"width": 1, "height": 1, "data": {"values": []}, "mark": "point"},
    {
     "hconcat": [
      {"width": 300, "height": 1, "data": {"values": [{"k": 1}]}, "mark": {"type": "rule", "color": "#3A3A3A", "strokeWidth": 1.5},
       "encoding": {"y": {"datum": 1, "type": "quantitative", "axis": null, "scale": {"domain": [0, 1]}}},
       "title": {"text": "资料来源：台积电官网，信达证券研发中心", "orient": "bottom", "anchor": "start", "frame": "group", "fontSize": 8.5, "fontStyle": "italic", "fontWeight": "normal", "color": "#333333", "offset": 5}},
      {"width": 306, "height": 1, "data": {"values": [{"k": 1}]}, "mark": {"type": "rule", "color": "#3A3A3A", "strokeWidth": 1.5},
       "encoding": {"y": {"datum": 1, "type": "quantitative", "axis": null, "scale": {"domain": [0, 1]}}},
       "title": {"text": "资料来源：台积电官网，信达证券研发中心", "orient": "bottom", "anchor": "start", "frame": "group", "fontSize": 8.5, "fontStyle": "italic", "fontWeight": "normal", "color": "#333333", "offset": 5}}
     ],
     "spacing": 14
    }
   ],
   "spacing": 20
  },
  {"width": 1, "height": 21, "data": {"values": []}, "mark": "point"},
  {
   "hconcat": [
    {"width": 119, "height": 1, "data": {"values": []}, "mark": "point"},
    {"width": 502, "height": 147,
     "layer": [
      {"data": {"name": "p2_head"}, "mark": {"type": "text", "align": "left", "baseline": "middle", "fontSize": 12.5, "color": "#222222"},
       "encoding": {"x": {"datum": 0, "type": "quantitative", "axis": null, "scale": {"domain": [0, 1]}}, "y": {"field": "行", "type": "ordinal", "axis": null, "scale": {"type": "point", "domain": [1, 2, 3, 4, 5, 6, 7, 8], "padding": 0.5}}, "text": {"field": "文本"}}},
      {"data": {"name": "p2_emph_tail"}, "mark": {"type": "text", "align": "right", "baseline": "middle", "fontSize": 12.5, "fontWeight": "bold", "color": "#111111"},
       "encoding": {"x": {"datum": 1, "type": "quantitative"}, "y": {"field": "行", "type": "ordinal"}, "text": {"field": "文本"}}}
     ]
    }
   ],
   "spacing": 20
  },
  {"width": 1, "height": 114, "data": {"values": []}, "mark": "point"},
  {
   "hconcat": [
    {"width": 314, "height": 1, "data": {"values": []}, "mark": "point"},
    {
     "hconcat": [
      {"width": 173, "height": 12, "data": {"values": [{"文本": "请阅读最后一页免责声明及信息披露"}]}, "mark": {"type": "text", "fontSize": 10.5, "color": "#111111"}, "encoding": {"text": {"field": "文本"}}},
      {"width": 99, "height": 12, "data": {"values": [{"文本": "http://www.cindasc.com"}]},
       "layer": [
        {"mark": {"type": "text", "fontSize": 10.5, "color": "#1F4FBF"}, "encoding": {"text": {"field": "文本"}}},
        {"mark": {"type": "rule", "color": "#1F4FBF", "strokeWidth": 0.8}, "encoding": {"y": {"datum": 0, "type": "quantitative", "axis": null, "scale": {"domain": [0, 1]}}}}
       ]},
      {"width": 42, "height": 12, "data": {"values": [{"文本": "5"}]}, "mark": {"type": "text", "fontSize": 11, "color": "#111111"}, "encoding": {"text": {"field": "文本"}}}
     ],
     "spacing": 3
    }
   ],
   "spacing": 20
  }
 ]
}
